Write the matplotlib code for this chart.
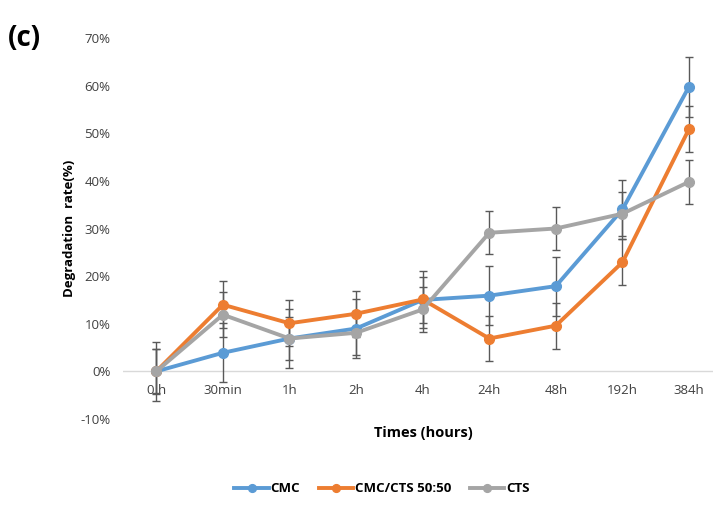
import numpy as np
import matplotlib.pyplot as plt

plt.rcParams['font.family'] = ['Open Sans', 'DejaVu Sans']

times = ["0 h", "30min", "1h", "2h", "4h", "24h", "48h", "192h", "384h"]

cmc = [0, 3.9, 6.9, 9.0, 15.0, 15.9, 17.9, 34.0, 59.8]
cmc_cts = [0, 14.0, 10.1, 12.1, 15.1, 6.9, 9.6, 22.9, 50.9]
cts = [0, 11.9, 6.9, 8.1, 13.0, 29.1, 30.0, 33.1, 39.8]

cmc_err = [6.2, 6.2, 6.2, 6.2, 4.8, 6.2, 6.2, 6.2, 6.3]
cmc_cts_err = [4.8, 4.9, 4.8, 4.8, 6.0, 4.7, 4.8, 4.8, 4.9]
cts_err = [4.6, 4.7, 4.6, 4.6, 4.7, 4.5, 4.6, 4.6, 4.6]

series = [
    ("CMC", cmc, cmc_err, "#5B9BD5"),
    ("CMC/CTS 50:50", cmc_cts, cmc_cts_err, "#ED7D31"),
    ("CTS", cts, cts_err, "#A5A5A5"),
]

fig = plt.figure(figsize=(7.13, 5.22), dpi=100)
ax = fig.add_axes([123 / 713, 1 - 419 / 522, 590 / 713, 381 / 522])

x = np.arange(len(times))
for name, vals, err, color in series:
    ax.errorbar(x, vals, yerr=err, fmt="none", ecolor="#595959",
                elinewidth=1, capsize=3, capthick=1, zorder=2)
    ax.plot(x, vals, color=color, linewidth=2.8, marker="o",
            markersize=7, label=name, zorder=3)

ax.axhline(0, color="#D9D9D9", linewidth=1, zorder=1)
ax.set_xlim(-0.5, 8.36)
ax.set_ylim(-10, 70)
ax.set_yticks(np.arange(-10, 71, 10))
ax.set_yticklabels([f"{v}%" for v in range(-10, 71, 10)])
ax.set_xticks(x)
ax.set_xticklabels(times)
ax.tick_params(axis="both", length=0, labelsize=9.5, labelcolor="#404040")
ax.tick_params(axis="y", pad=9)
ax.tick_params(axis="x", pad=-25)
for s in ax.spines.values():
    s.set_visible(False)

ax.set_ylabel("Degradation  rate(%)", fontsize=9.5, fontweight="bold", labelpad=3)
fig.text(423 / 713, 1 - 433 / 522, "Times (hours)", fontsize=10.5,
         fontweight="bold", ha="center", va="center")
fig.text(8 / 713, 1 - 38 / 522, "(c)", fontsize=20, fontweight="bold",
         ha="left", va="center")

fig.legend(loc="center", bbox_to_anchor=(382 / 713, 1 - 489 / 522), ncol=3,
           frameon=False, handlelength=2.6, columnspacing=1.4,
           handletextpad=0.15, markerscale=0.8,
           prop={"weight": "bold", "size": 9.5})

fig.savefig("out.png", dpi=100)
